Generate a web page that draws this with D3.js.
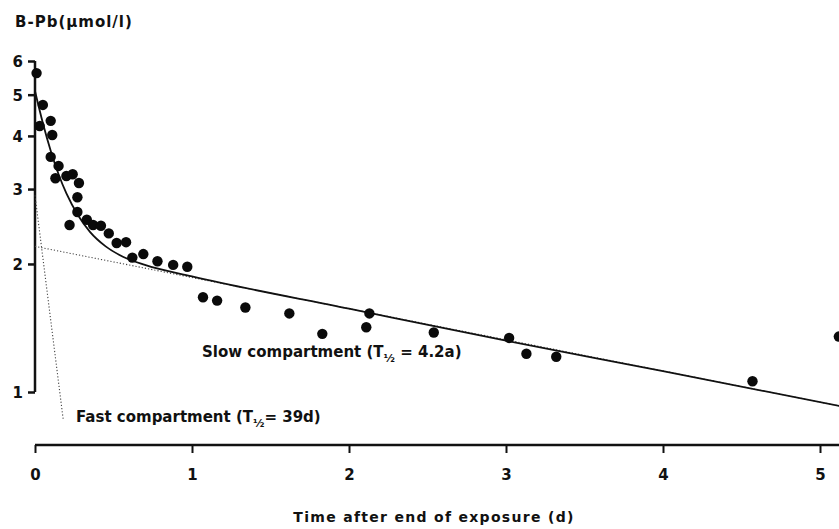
<!DOCTYPE html>
<html>
<head>
<meta charset="utf-8">
<script src="https://cdn.jsdelivr.net/npm/d3@7"></script>
<style>
  body { margin: 0; background: #fff; }
  text { font-family: "DejaVu Sans", sans-serif; font-weight: bold; fill: #111; }
</style>
</head>
<body>
<svg></svg>
<script>
const width = 839;
const height = 529;

// measured blood lead (time, umol/l)
const times = [0.01, 0.05, 0.1, 0.03, 0.11, 0.1, 0.15, 0.13, 0.2, 0.24, 0.28, 0.27, 0.27, 0.22,
  0.33, 0.37, 0.42, 0.47, 0.52, 0.58, 0.62, 0.69, 0.78, 0.88, 0.97, 1.07, 1.16, 1.34, 1.62,
  1.83, 2.11, 2.13, 2.54, 3.02, 3.13, 3.32, 4.57, 5.12];
const values = [5.62, 4.73, 4.34, 4.22, 4.02, 3.57, 3.4, 3.18, 3.22, 3.25, 3.1, 2.87, 2.65, 2.47,
  2.54, 2.47, 2.46, 2.36, 2.24, 2.25, 2.07, 2.11, 2.03, 1.99, 1.97, 1.67, 1.64, 1.58, 1.53,
  1.37, 1.42, 1.53, 1.38, 1.34, 1.23, 1.21, 1.06, 1.35];

// fitted curve
const fitTimes = [0, 0.05, 0.1, 0.15, 0.2, 0.275, 0.35, 0.45, 0.56, 0.7, 1, 2, 3, 4, 5.3];
const fitValues = [5.1, 4.29, 3.69, 3.25, 2.93, 2.6, 2.38, 2.2, 2.08, 1.99, 1.87, 1.57, 1.32, 1.12, 0.9];

// compartment lines (end points)
const slowTimes = [0, 5.3];
const slowValues = [2.2, 0.9];
const fastTimes = [0, 0.18];
const fastValues = [2.9, 0.86];

const xTicks = [0, 1, 2, 3, 4, 5];
const yTicks = [1, 2, 3, 4, 5, 6];

const svg = d3.select('svg')
  .attr('width', width)
  .attr('height', height);

const x = d3.scaleLinear().domain([0, 5]).range([35, 820]);
const y = d3.scaleLog().domain([1, 6]).range([392, 61]);
const axisY = 445;

const line = d3.line()
  .x(d => x(d[0]))
  .y(d => y(d[1]));

// y axis
const yAxis = svg.append('g')
  .attr('transform', 'translate(' + x(0) + ',0)')
  .call(d3.axisLeft(y).tickValues(yTicks).tickFormat(d3.format('d')).tickSize(7).tickPadding(5));
yAxis.select('.domain').attr('d', 'M0,' + y(6) + 'V' + y(1))
  .attr('stroke', '#111').attr('stroke-width', 2.5);
yAxis.selectAll('.tick line').attr('stroke', '#111').attr('stroke-width', 2.5);
yAxis.selectAll('.tick text').attr('font-size', 15).attr('dy', '0.36em');

// x axis
const xAxis = svg.append('g')
  .attr('transform', 'translate(0,' + axisY + ')')
  .call(d3.axisBottom(x).tickValues(xTicks).tickFormat(d3.format('d')).tickSize(8).tickPadding(16));
xAxis.select('.domain').attr('d', 'M' + x(0) + ',0H' + width)
  .attr('stroke', '#111').attr('stroke-width', 2.5);
xAxis.selectAll('.tick line').attr('stroke', '#111').attr('stroke-width', 2);
xAxis.selectAll('.tick text').attr('font-size', 15);

// compartments (dotted)
svg.append('path')
  .datum(d3.zip(slowTimes, slowValues))
  .attr('d', line)
  .attr('fill', 'none')
  .attr('stroke', '#444')
  .attr('stroke-width', 1.1)
  .attr('stroke-dasharray', '1.2,2');

svg.append('path')
  .datum(d3.zip(fastTimes, fastValues))
  .attr('d', line)
  .attr('fill', 'none')
  .attr('stroke', '#444')
  .attr('stroke-width', 1.1)
  .attr('stroke-dasharray', '1.2,2');

// fitted line
svg.append('path')
  .datum(d3.zip(fitTimes, fitValues))
  .attr('d', line.curve(d3.curveMonotoneX))
  .attr('fill', 'none')
  .attr('stroke', '#111')
  .attr('stroke-width', 1.8);

svg.append('g')
  .selectAll('circle')
  .data(d3.zip(times, values))
  .enter().append('circle')
    .attr('cx', d => x(d[0]))
    .attr('cy', d => y(d[1]))
    .attr('r', 5.2)
    .attr('fill', '#0a0a0a');

// labels
svg.append('text')
  .attr('x', 15).attr('y', 27)
  .attr('font-size', 15)
  .attr('letter-spacing', 1)
  .text('B-Pb(μmol/l)');

svg.append('text')
  .attr('x', 434).attr('y', 522)
  .attr('text-anchor', 'middle')
  .attr('font-size', 14)
  .attr('letter-spacing', 1.3)
  .text('Time after end of exposure (d)');

function halfLifeLabel(px, py, before, after) {
  const t = svg.append('text')
    .attr('x', px).attr('y', py)
    .attr('font-size', 15);
  t.append('tspan').text(before);
  t.append('tspan').attr('font-size', 11).attr('dy', 5).text('½');
  t.append('tspan').attr('dy', -5).text(after);
}

halfLifeLabel(202, 357, 'Slow compartment (T', ' = 4.2a)');
halfLifeLabel(76, 422, 'Fast compartment (T', '= 39d)');
</script>
</body>
</html>
